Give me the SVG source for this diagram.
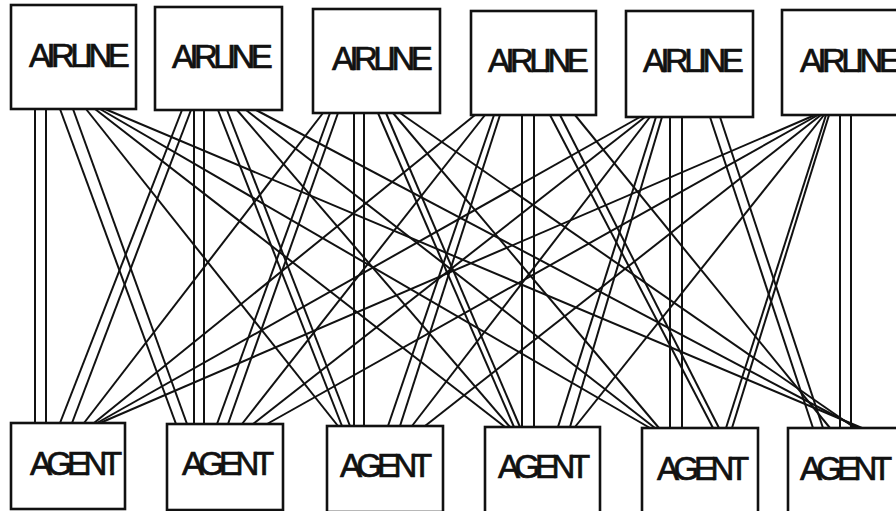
<svg xmlns="http://www.w3.org/2000/svg" width="896" height="511" viewBox="0 0 896 511">
<style>
.box{fill:#fff;stroke:#111;stroke-width:2.6}
.t{font-family:"Liberation Sans",Arial,sans-serif;font-size:33px;fill:#111;stroke:#111;stroke-width:0.7;letter-spacing:-4.6px}
.g{letter-spacing:-5.4px}
#connectors line{stroke:#111;stroke-width:2}
</style>
<rect width="896" height="511" fill="#fff"/>
<g id="connectors">
<!-- A1 -->
<line x1="35" y1="109" x2="35" y2="423"/><line x1="46" y1="109" x2="46" y2="423"/>
<line x1="60" y1="109" x2="176" y2="424"/><line x1="73" y1="109" x2="187" y2="424"/>
<line x1="86" y1="109" x2="338" y2="426"/>
<line x1="95" y1="109" x2="505" y2="427"/>
<line x1="100" y1="109" x2="650" y2="428"/>
<line x1="105" y1="109" x2="862" y2="428"/>
<!-- A2 -->
<line x1="182" y1="110" x2="60" y2="423"/><line x1="191" y1="110" x2="72" y2="423"/>
<line x1="194" y1="110" x2="194" y2="424"/><line x1="204" y1="110" x2="204" y2="424"/>
<line x1="218" y1="110" x2="342" y2="426"/><line x1="227" y1="110" x2="350" y2="426"/>
<line x1="237" y1="110" x2="510" y2="427"/>
<line x1="246" y1="110" x2="655" y2="428"/>
<line x1="256" y1="110" x2="858" y2="428"/>
<!-- A3 -->
<line x1="323" y1="113" x2="84" y2="423"/>
<line x1="330" y1="113" x2="217" y2="424"/><line x1="338" y1="113" x2="228" y2="424"/>
<line x1="354" y1="113" x2="354" y2="426"/><line x1="364" y1="113" x2="364" y2="426"/>
<line x1="378" y1="113" x2="514" y2="427"/><line x1="386" y1="113" x2="520" y2="427"/>
<line x1="393" y1="113" x2="659" y2="428"/>
<line x1="400" y1="113" x2="855" y2="428"/>
<!-- A4 -->
<line x1="475" y1="115" x2="94" y2="423"/>
<line x1="485" y1="115" x2="242" y2="424"/>
<line x1="494" y1="115" x2="388" y2="426"/><line x1="500" y1="115" x2="400" y2="426"/>
<line x1="522" y1="115" x2="522" y2="427"/><line x1="534" y1="115" x2="534" y2="427"/>
<line x1="550" y1="115" x2="713" y2="428"/><line x1="560" y1="115" x2="719" y2="428"/>
<line x1="575" y1="115" x2="830" y2="428"/>
<!-- A5 -->
<line x1="640" y1="117" x2="97" y2="423"/>
<line x1="645" y1="117" x2="253" y2="424"/>
<line x1="650" y1="117" x2="412" y2="426"/>
<line x1="656" y1="117" x2="558" y2="427"/><line x1="662" y1="117" x2="570" y2="427"/>
<line x1="670" y1="117" x2="670" y2="428"/><line x1="682" y1="117" x2="682" y2="428"/>
<line x1="710" y1="117" x2="813" y2="428"/><line x1="720" y1="117" x2="823" y2="428"/>
<!-- A6 -->
<line x1="815" y1="115" x2="100" y2="423"/>
<line x1="818" y1="115" x2="267" y2="424"/>
<line x1="821" y1="115" x2="425" y2="426"/>
<line x1="824" y1="115" x2="575" y2="427"/>
<line x1="826" y1="115" x2="726" y2="428"/><line x1="829" y1="115" x2="732" y2="428"/>
<line x1="840" y1="115" x2="840" y2="428"/><line x1="851" y1="115" x2="851" y2="428"/>
</g>
<g id="airline1"><rect class="box" x="11" y="5" width="125" height="104"/><text class="t" x="29" y="67">AIRLINE</text></g>
<g id="airline2"><rect class="box" x="155" y="7" width="127" height="103"/><text class="t" x="172" y="68">AIRLINE</text></g>
<g id="airline3"><rect class="box" x="313" y="9" width="127" height="104"/><text class="t" x="332" y="70">AIRLINE</text></g>
<g id="airline4"><rect class="box" x="471" y="11" width="125" height="104"/><text class="t" x="488" y="72">AIRLINE</text></g>
<g id="airline5"><rect class="box" x="626" y="11" width="127" height="106"/><text class="t" x="643" y="72">AIRLINE</text></g>
<g id="airline6"><rect class="box" x="782" y="10" width="125" height="105"/><text class="t" x="800" y="72">AIRLINE</text></g>
<g id="agent1"><rect class="box" x="11" y="423" width="114" height="86"/><text class="t g" x="30" y="475">AGENT</text></g>
<g id="agent2"><rect class="box" x="167" y="424" width="116" height="86"/><text class="t g" x="182" y="475">AGENT</text></g>
<g id="agent3"><rect class="box" x="327" y="426" width="116" height="86"/><text class="t g" x="340" y="477">AGENT</text></g>
<g id="agent4"><rect class="box" x="485" y="427" width="115" height="86"/><text class="t g" x="498" y="478">AGENT</text></g>
<g id="agent5"><rect class="box" x="642" y="428" width="116" height="86"/><text class="t g" x="657" y="480">AGENT</text></g>
<g id="agent6"><rect class="box" x="788" y="428" width="116" height="86"/><text class="t g" x="800" y="480">AGENT</text></g>
</svg>
